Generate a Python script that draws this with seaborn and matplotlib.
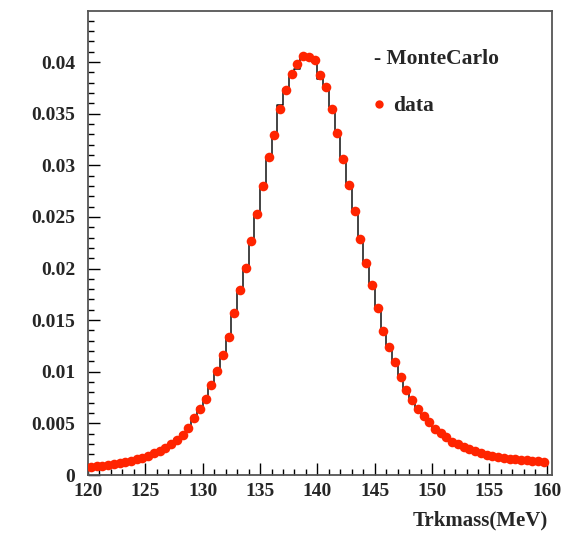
import numpy as np
import pandas as pd
import matplotlib
matplotlib.use("Agg")
import matplotlib.pyplot as plt
from matplotlib.ticker import MultipleLocator, FormatStrFormatter
import seaborn as sns

# Binning of the track mass histogram (MeV)
bin_lo, bin_hi, bin_w = 120.0, 160.0, 0.5

# Normalised data counts per bin, from 120.25 to 159.75 MeV
data_vals = [
    0.00078, 0.00085, 0.00092, 0.00100, 0.00108, 0.00117, 0.00127, 0.00139,
    0.00152, 0.00168, 0.00188, 0.00210, 0.00236, 0.00265, 0.00297, 0.00340,
    0.00387, 0.00455, 0.00550, 0.00636, 0.00735, 0.00873, 0.01010, 0.01159,
    0.01340, 0.01566, 0.01792, 0.02002, 0.02263, 0.02528, 0.02802, 0.03083,
    0.03293, 0.03542, 0.03729, 0.03888, 0.03977, 0.04058, 0.04045, 0.04015,
    0.03875, 0.03760, 0.03540, 0.03315, 0.03058, 0.02804, 0.02560, 0.02283,
    0.02050, 0.01840, 0.01614, 0.01392, 0.01243, 0.01094, 0.00946, 0.00823,
    0.00722, 0.00636, 0.00575, 0.00510, 0.00449, 0.00403, 0.00365, 0.00323,
    0.00297, 0.00274, 0.00249, 0.00232, 0.00213, 0.00197, 0.00184, 0.00177,
    0.00165, 0.00158, 0.00152, 0.00145, 0.00142, 0.00139, 0.00136, 0.00129,
]

# Normalised Monte Carlo prediction per bin
mc_vals = [
    0.00076, 0.00083, 0.00091, 0.00099, 0.00107, 0.00116, 0.00127, 0.00139,
    0.00153, 0.00169, 0.00188, 0.00211, 0.00238, 0.00268, 0.00302, 0.00345,
    0.00395, 0.00462, 0.00548, 0.00645, 0.00748, 0.00868, 0.01020, 0.01170,
    0.01350, 0.01560, 0.01800, 0.02010, 0.02270, 0.02540, 0.02800, 0.03060,
    0.03310, 0.03580, 0.03740, 0.03860, 0.03930, 0.04040, 0.04060, 0.04000,
    0.03840, 0.03740, 0.03560, 0.03300, 0.03070, 0.02790, 0.02570, 0.02270,
    0.02060, 0.01830, 0.01620, 0.01400, 0.01230, 0.01100, 0.00940, 0.00830,
    0.00715, 0.00640, 0.00570, 0.00512, 0.00452, 0.00400, 0.00362, 0.00326,
    0.00295, 0.00272, 0.00250, 0.00230, 0.00214, 0.00198, 0.00185, 0.00175,
    0.00166, 0.00158, 0.00151, 0.00146, 0.00141, 0.00138, 0.00135, 0.00130,
]

edges = np.arange(bin_lo, bin_hi + bin_w / 2, bin_w)
centers = 0.5 * (edges[:-1] + edges[1:])
df = pd.DataFrame({"mass": centers, "data": data_vals, "mc": mc_vals})

sns.set_style("white")
serif = ["Liberation Serif", "DejaVu Serif"]
plt.rcParams["font.family"] = serif
plt.rcParams["font.weight"] = "bold"

fig = plt.figure(figsize=(5.74, 5.33), dpi=100)
ax = fig.add_axes([88 / 574, 1 - 475 / 533, 464 / 574, 464 / 533])

# Monte Carlo histogram as an unfilled step outline
sns.histplot(data=df, x="mass", weights="mc", binwidth=bin_w,
             binrange=(bin_lo, bin_hi), element="step", fill=False,
             color="#111111", linewidth=1.1, ax=ax, zorder=2)

# Data points
red = "#ff2400"
sns.scatterplot(data=df, x="mass", y="data", color=red, s=48, linewidth=0,
                ax=ax, zorder=3, legend=False)

ax.set_xlim(120, 160.45)
ax.set_ylim(0, 0.04494)

ax.xaxis.set_major_locator(MultipleLocator(5))
ax.xaxis.set_minor_locator(MultipleLocator(1))
ax.yaxis.set_major_locator(MultipleLocator(0.005))
ax.yaxis.set_minor_locator(MultipleLocator(0.001))
ax.yaxis.set_major_formatter(FormatStrFormatter("%g"))
ax.xaxis.set_major_formatter(FormatStrFormatter("%g"))

ax.tick_params(which="both", direction="in", top=False, right=False,
               bottom=True, left=True, color="black", width=1.0)
ax.tick_params(which="major", length=8.5)
ax.tick_params(which="minor", length=4.5)
ax.tick_params(axis="y", which="major", pad=9, labelsize=14)
ax.tick_params(axis="x", which="major", pad=6, labelsize=14)
for lab in ax.get_xticklabels() + ax.get_yticklabels():
    lab.set_fontweight("bold")

for sp in ax.spines.values():
    sp.set_color("#555555")
    sp.set_linewidth(1.3)

ax.set_ylabel("")
ax.set_xlabel("Trkmass(MeV)", fontsize=15, fontweight="bold",
              ha="right", va="center")
ax.xaxis.set_label_coords((548 - 88) / 464, -(520 - 475) / 464)

# Legend entries
ax.text((374 - 88) / 464, 1 - (63.5 - 11) / 464, "- MonteCarlo",
        transform=ax.transAxes, fontsize=15.5, fontweight="bold",
        ha="left", va="baseline")
dot = plt.Line2D([], [], linestyle="none", marker="o", markersize=6,
                 markerfacecolor=red, markeredgewidth=0)
leg = ax.legend([dot], ["data"], loc="center left",
                bbox_to_anchor=((371 - 88) / 464, 1 - (106 - 11) / 464),
                frameon=False, borderpad=0, borderaxespad=0,
                handlelength=0.75, handletextpad=0.3,
                prop={"family": serif, "weight": "bold", "size": 15.5})

fig.savefig("out.png", dpi=100)
